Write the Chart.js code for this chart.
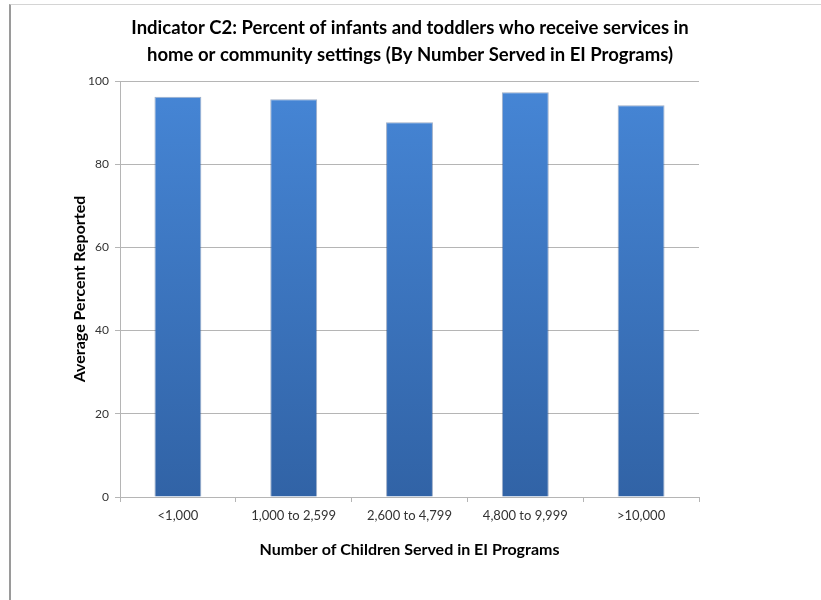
<!DOCTYPE html>
<html>
<head>
<meta charset="utf-8">
<script src="https://cdn.jsdelivr.net/npm/chart.js@4"></script>
<style>
  body { margin: 0; background: #fff; }
  #wrap { position: relative; width: 821px; height: 600px; }
  #frame { position: absolute; left: 9px; top: 4px; right: 0; bottom: 0; border-left: 2px solid #9a9a9a; border-top: 1px solid #d4d4d4; pointer-events: none; }
  canvas { position: absolute; left: 0; top: 0; }
</style>
</head>
<body>
<div id="wrap">
  <canvas id="chart" width="821" height="600"></canvas>
  <div id="frame"></div>
</div>
<script>
// chart data
const CATEGORIES = ['<1,000', '1,000 to 2,599', '2,600 to 4,799', '4,800 to 9,999', '>10,000'];
const AVG_PERCENT = [96.2, 95.6, 90.1, 97.3, 94.2];
const TITLE_LINES = [
    'Indicator C2: Percent of infants and toddlers who receive services in',
    'home or community settings (By Number Served in EI Programs)'
];
const FONT = 'Lato, "Open Sans", sans-serif';

function barGradient(ctx) {
    const area = ctx.chart.chartArea;
    if (!area) return '#3d77c4';
    const g = ctx.chart.ctx.createLinearGradient(0, area.top, 0, area.bottom);
    g.addColorStop(0, '#4686d6');
    g.addColorStop(1, '#3163a6');
    return g;
}

new Chart(document.getElementById('chart'), {
    type: 'bar',
    data: {
        labels: CATEGORIES,
        datasets: [{
            data: AVG_PERCENT,
            backgroundColor: barGradient,
            borderColor: 'rgba(40,75,130,0.45)',
            borderWidth: 1,
            barPercentage: 0.81,
            categoryPercentage: 0.5,
        }]
    },
    options: {
        responsive: false,
        animation: false,
        layout: { padding: { left: 70, right: 71, top: 0, bottom: 41 } },
        plugins: {
            legend: { display: false },
            tooltip: { enabled: false },
            title: {
                display: true,
                text: TITLE_LINES,
                color: '#000',
                font: { family: FONT, size: 18.5, weight: 'bold', lineHeight: 1.46 },
                padding: { top: 14.5, bottom: 12.5 }
            }
        },
        scales: {
            x: {
                afterFit: s => { s.height = 62; },
                grid: { display: true, drawOnChartArea: false, offset: true, tickLength: 5, color: '#b5b5b5' },
                border: { color: '#b5b5b5' },
                ticks: { color: '#333', font: { family: FONT, size: 13 }, padding: 6 },
                title: {
                    display: true,
                    text: 'Number of Children Served in EI Programs',
                    color: '#000',
                    font: { family: FONT, size: 16, weight: 'bold' },
                    padding: { top: 0, bottom: 0 }
                }
            },
            y: {
                min: 0,
                max: 100,
                afterFit: s => { s.width = 50; },
                ticks: { stepSize: 20, color: '#333', font: { family: FONT, size: 12 }, padding: 6 },
                grid: { color: '#b5b5b5', tickLength: 5 },
                border: { color: '#b5b5b5' },
                title: {
                    display: true,
                    text: 'Average Percent Reported',
                    color: '#000',
                    font: { family: FONT, size: 16, weight: 'bold' },
                    padding: { top: 0, bottom: 0 }
                }
            },
            // empty right axis, only there to centre the title like the original
            yRight: {
                position: 'right',
                min: 0,
                max: 100,
                afterFit: s => { s.width = 51; },
                ticks: { display: false },
                grid: { display: false },
                border: { display: false }
            }
        }
    }
});
</script>
</body>
</html>
